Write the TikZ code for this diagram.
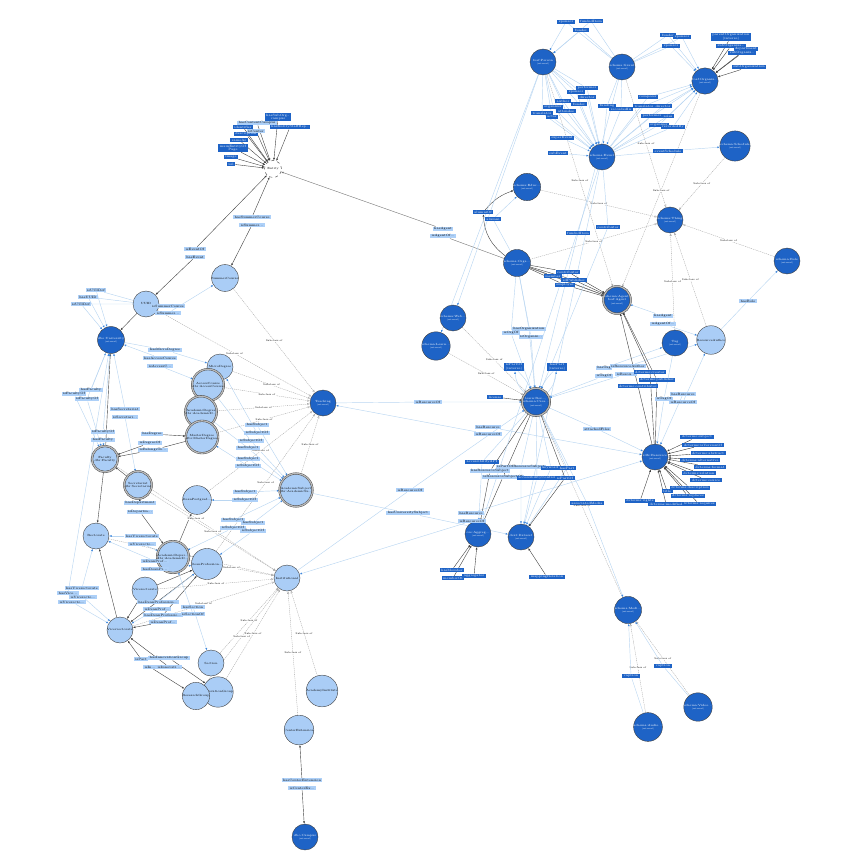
\documentclass[tikz,border=0pt]{standalone}
\usetikzlibrary{arrows.meta,positioning}
\definecolor{extblue}{HTML}{1E63C6}
\definecolor{clsblue}{HTML}{AACDF6}
\definecolor{labblue}{HTML}{ADD0F8}
\definecolor{linkblue}{HTML}{BAD6F1}
\definecolor{tipblue}{HTML}{3F88DD}
\newcommand{\exttag}{{\fontsize{2.1}{2.4}\selectfont(external)}}
\pgfdeclarelayer{bg}
\pgfsetlayers{bg,main}

\begin{document}
\begin{tikzpicture}
  [
    x=1pt, y=-1pt,
    base/.style={circle, draw=black!75, line width=.4pt, minimum size=26pt, inner sep=0pt, align=center, font=\fontsize{3}{3.4}\selectfont},
    cls/.style={base, fill=clsblue},
    ext/.style={base, fill=extblue, text=white},
    eqv/.style={base, fill=clsblue, double=gray!55, double distance=1.3pt},
    eqvext/.style={eqv, fill=extblue, text=white},
    thing/.style={base, dashed, fill=white, minimum size=17pt},
    lab/.style={fill=labblue, inner xsep=1.5pt, inner ysep=.9pt, font=\fontsize{3.2}{3.5}\selectfont, align=center},
    dlab/.style={lab, fill=extblue, text=white},
    prop/.style={draw=linkblue, line width=.45pt, -{Latex[length=2.4pt,width=2pt,color=tipblue]}},
    dprop/.style={draw=black!75, line width=.4pt, -{Latex[length=2.4pt,width=2pt]}},
    subc/.style={draw=gray!75, line width=.3pt, dash pattern=on 1.2pt off .8pt, -{Latex[open,length=2.6pt,width=2.2pt]}},
    subl/.style={fill=white, inner sep=.4pt, font=\fontsize{2.5}{2.8}\selectfont}
  ]
  \useasboundingbox (0,0) rectangle (840,858);

  % classes, university part
  \node[thing] (entity) at (273,169) {Entity};
  \node[cls] (uuid) at (146,304) {UUID};
  \node[cls] (summer) at (225,278) {SummerCourse};
  \node[ext] (univ) at (111,340) {dbo:University\\\exttag};
  \node[cls] (micro) at (220,367) {MicroDegree};
  \node[eqv] (access) at (208,385) {AccessCourse\\dbr:AccessCourse};
  \node[eqv] (acadeg) at (201,412) {AcademicDegree\\dbr:AcademicD...};
  \node[eqv] (master) at (202,437) {MasterDegree\\dbr:MasterDegree};
  \node[eqv] (faculty) at (105,459) {Faculty\\dbr:Faculty};
  \node[eqv] (secret) at (138,485) {Secretariat\\dbr:Secretariat};
  \node[cls] (deanpg) at (197,500) {DeanPostgrad...};
  \node[cls] (rector) at (96,536) {Rectorate};
  \node[eqv] (acadep) at (173,557) {AcademicDepar...\\dbr:AcademicD...};
  \node[cls] (deanpr) at (207,564) {DeanProfession...};
  \node[cls] (vicer) at (145,590) {Vicerectorate};
  \node[cls] (vicerb) at (120,630) {Vicerrectorate};
  \node[cls] (section) at (211,663) {Section};
  \node[cls] (innov) at (218,692) {InnovationGroup};
  \node[cls] (resgrp) at (196,696) {ResearchGroup};
  \node[ext] (teach) at (323,403) {Teaching\\\exttag};
  \node[eqv] (subject) at (296,490) {AcademicSubject\\dbr:AcademicSu...};
  \node[cls] (inst) at (287,578) {Institutional};
  \node[cls] (acinst) at (322,691) {AcademyInstitute};
  \node[cls] (center) at (299,730) {CenterExtension};
  \node[ext] (campus) at (305,837) {dbo:Campus\\\exttag};

  % classes, resource part
  \node[ext] (person) at (543,62) {foaf:Person\\\exttag};
  \node[ext] (event) at (622,67) {schema:Grant\\\exttag};
  \node[ext] (org) at (705,81) {foaf:Organiz...\\\exttag};
  \node[ext] (cwork) at (602,157) {schema:Event\\\exttag};
  \node[ext] (struct) at (735,146) {schema:Schedule\\\exttag};
  \node[ext] (eduorg) at (527,187) {schema:Educ...\\\exttag};
  \node[ext] (thingr) at (670,220) {schema:Thing\\\exttag};
  \node[ext] (orgs) at (517,263) {schema:Orga...\\\exttag};
  \node[eqvext] (agent) at (617,300) {schema:Agent,\\foaf:Agent\\\exttag};
  \node[ext] (role) at (787,261) {schema:Role\\\exttag};
  \node[ext] (web) at (453,318) {schema:Web...\\\exttag};
  \node[ext] (learn) at (436,346) {schema:Learn...\\\exttag};
  \node[ext] (tag) at (675,343) {Tag\\\exttag};
  \node[cls] (rauthor) at (711,340) {ResourceAuthor};
  \node[eqvext] (resource) at (536,402) {learn:Res...,\\schema:Crea...\\\exttag};
  \node[ext] (rdfsres) at (655,457) {rdfs:Resource\\\exttag};
  \node[ext] (aggr) at (478,534) {ore:Aggreg...\\\exttag};
  \node[ext] (dataset) at (521,537) {dcat:Dataset\\\exttag};
  \node[ext] (media) at (628,610) {schema:Medi...\\\exttag};
  \node[ext] (audio) at (648,727) {schema:Audio...\\\exttag};
  \node[ext] (video) at (698,707) {schema:Video...\\\exttag};

  % labels round Entity
  \foreach \n/\x/\y/\t in {1/278/117/{hasSubOrg\dots\\campus}, 2/243/127/identifier, 3/290/127/{hasEntityStaffRep\dots},
      4/246/134/description, 5/239/140/sameAs, 6/233/148/{mainEntityOf\\Page}, 7/231/157/image, 8/231/164/url}
  {
    \node[dlab] (ec\n) at (\x,\y) {\t};
    \begin{pgfonlayer}{bg}\draw[dprop] (ec\n) -- (entity);\end{pgfonlayer}
  }
  \node[lab] (ec9) at (257,123) {hasContentCampus};
  \node[lab] (ec10) at (256,131) {isCenter};

  % property labels, university part
  \node[lab] (ev1) at (195,249) {isEventOf};
  \node[lab] (ev2) at (195,257) {hasEvent};
  \node[lab] (sc1) at (252,217) {hasSummerCourse};
  \node[lab] (sc2) at (252,225) {isSummer...};
  \node[lab] (uu1) at (96,290) {isUUIDof};
  \node[lab] (uu2) at (88,297) {hasUUID};
  \node[lab] (uu3) at (81,304) {isUUIDof};
  \node[lab] (us1) at (168,306) {isSummerCourse};
  \node[lab] (us2) at (168,313) {isSummer...};
  \node[lab] (mi1) at (165,350) {hasMicroDegree};
  \node[lab] (mi2) at (160,358) {hasAccessCourse};
  \node[lab] (mi3) at (160,366) {isAccessC...};
  \node[lab] (fa1) at (91,390) {hasFaculty};
  \node[lab] (fa2) at (74,394) {isFacultyOf};
  \node[lab] (fa3) at (87,399) {isFacultyOf};
  \node[lab] (se1) at (125,409) {hasSecretariat};
  \node[lab] (se2) at (125,417) {isSecretari...};
  \node[lab] (fo1) at (103,432) {isFacultyOf};
  \node[lab] (fo2) at (103,440) {hasFaculty};
  \node[lab] (de1) at (152,434) {hasDegree};
  \node[lab] (de2) at (150,443) {isDegreeOf};
  \node[lab] (de3) at (153,450) {isBelongsTo...};
  \node[lab] (dp1) at (140,503) {hasDepartment};
  \node[lab] (dp2) at (140,512) {isDepartm...};
  \node[lab] (vr1) at (142,536) {hasVicerectorate};
  \node[lab] (vr2) at (142,544) {isVicerecto...};
  \node[lab] (dn1) at (155,561) {isDeanProf...};
  \node[lab] (dn2) at (155,569) {hasDeanPr...};
  \node[lab] (dq1) at (158,602) {hasDeanProfession...};
  \node[lab] (dq2) at (157,609) {isDeanProf...};
  \node[lab] (dq3) at (163,615) {hasDeanProfessio...};
  \node[lab] (dq4) at (163,622) {isDeanProf...};
  \node[lab] (sn1) at (193,607) {hasSection};
  \node[lab] (sn2) at (193,614) {isSectionOf};
  \node[lab] (vl1) at (82,588) {hasVicerectorate};
  \node[lab] (vl2) at (68,593) {hasVice...};
  \node[lab] (vl3) at (83,597) {isVicerecto...};
  \node[lab] (vl4) at (72,602) {isVicerecto...};
  \node[lab] (gi1) at (141,659) {isPart};
  \node[lab] (gi2) at (169,658) {hasInnovationGroup};
  \node[lab] (gi3) at (150,667) {isIn...};
  \node[lab] (gi4) at (169,667) {isInnovati...};
  \node[lab] (s1) at (257,425) {hasSubject};
  \node[lab] (s2) at (257,433) {isSubjectOf};
  \node[lab] (s3) at (251,441) {isSubjectOf};
  \node[lab] (s4) at (248,448) {hasSubject};
  \node[lab] (s5) at (248,459) {hasSubject};
  \node[lab] (s6) at (248,466) {isSubjectOf};
  \node[lab] (s7) at (245,492) {hasSubject};
  \node[lab] (s8) at (245,500) {isSubjectOf};
  \node[lab] (s9) at (233,520) {hasSubject};
  \node[lab] (s10) at (233,528) {isSubjectOf};
  \node[lab] (s11) at (253,523) {hasSubject};
  \node[lab] (s12) at (253,531) {isSubjectOf};
  \node[lab] (cx1) at (302,780) {hasCenterExtension};
  \node[lab] (cx2) at (302,788) {isCenterEx...};

  % property labels, resource part
  \node[lab] (ag1) at (443,229) {hasAgent};
  \node[lab] (ag2) at (443,236) {isAgentOf...};
  \node[lab] (rs1) at (428,402) {isResourceOf};
  \node[dlab] (lic) at (495,397) {license};
  \node[lab] (rs2) at (410,490) {isResourceOf};
  \node[lab] (hus) at (408,513) {hasUniversitySubject};
  \node[lab] (ir1) at (471,513) {hasResource};
  \node[lab] (ir2) at (472,521) {isResourceOf};
  \node[lab] (hr1) at (488,427) {hasResource};
  \node[lab] (hr2) at (488,434) {isResourceOf};
  \node[lab] (att) at (597,429) {attachedFiles};
  \node[dlab] (amd) at (587,503) {associatedMedia};
  \node[lab] (tg1) at (604,368) {hasTag};
  \node[lab] (tg2) at (604,376) {isTagOf};
  \node[lab] (ra1) at (628,366) {isResourceAuthor};
  \node[lab] (ra2) at (626,374) {isResou...};
  \node[lab] (rq1) at (683,394) {hasResource};
  \node[lab] (rq2) at (683,402) {isResourceOf};
  \node[lab] (tgo) at (664,399) {isTagOf};
  \node[lab] (hag1) at (663,316) {hasAgent};
  \node[lab] (hag2) at (663,324) {isAgentOf...};
  \node[lab] (hrole) at (748,301) {hasRole};
  \node[dlab] (dct1) at (650,372) {dcterms:creator};
  \node[dlab] (dct2) at (657,380) {dcterms:publisher};
  \node[dlab] (dct3) at (638,386) {dcterms:contributor};
  \node[dlab] (pp1) at (514,367) {isPartOf\\(inverse)};
  \node[dlab] (pp2) at (557,367) {hasPart\\(inverse)};
  \node[lab] (ow1) at (529,329) {hasOrganization};
  \node[lab] (ow2) at (511,333) {isOrgOf};
  \node[lab] (ow3) at (531,337) {isOrganiz...};
  \node[dlab] (fi) at (578,233) {fundedItem};
  \node[dlab] (wf) at (608,227) {contributor};
  \node[dlab] (el1) at (483,212) {alumniOf};
  \node[dlab] (el2) at (493,219) {alumni};
  \node[dlab] (esc) at (668,151) {eventSchedule};
  \node[dlab] (ce1) at (562,138) {superEvent};
  \node[dlab] (ce2) at (558,153) {subEvent};
  \node[dlab] (capt1) at (663,666) {caption};
  \node[dlab] (capt2) at (631,676) {caption};
  \node[dlab] (am1) at (452,570) {hasMember};
  \node[dlab] (am2) at (453,578) {memberOf};
  \node[dlab] (am3) at (474,576) {aggregates};
  \node[dlab] (dm1) at (547,577) {mappingRelation};

  % Person, Grant, Event and Organization
  \foreach \n/\x/\y/\t in {1/587/88/performer, 2/576/92/sponsor, 3/587/97/director, 4/563/101/author,
      5/579/104/funder, 6/553/107/organizer, 7/566/111/attendee, 8/542/113/translator, 9/552/117/actor}
  {
    \node[dlab] (pf\n) at (\x,\y) {\t};
    \begin{pgfonlayer}{bg}\draw[prop] (person) -- (pf\n) -- (cwork);\end{pgfonlayer}
  }
  \foreach \n/\x/\y/\t in {1/607/106/funding, 2/621/109/recordedIn}
  {
    \node[dlab] (fe\n) at (\x,\y) {\t};
    \begin{pgfonlayer}{bg}\draw[prop] (event) -- (fe\n) -- (cwork);\end{pgfonlayer}
  }
  \foreach \n/\x/\y/\t in {1/648/97/composer, 2/644/106/translator, 3/663/106/director, 4/652/116/performer,
      5/668/116/roles, 6/659/125/organizer, 7/673/127/recordedBy}
  {
    \node[dlab] (co\n) at (\x,\y) {\t};
    \begin{pgfonlayer}{bg}\draw[prop] (cwork) -- (co\n) -- (org);\end{pgfonlayer}
  }
  \foreach \n/\x/\y/\t in {1/566/22/sponsor, 2/591/21/fundedItem, 3/581/30/funder}
  {
    \node[dlab] (pe\n) at (\x,\y) {\t};
    \begin{pgfonlayer}{bg}\draw[prop] (event) -- (pe\n) -- (person);\end{pgfonlayer}
  }
  \foreach \n/\x/\y/\t in {1/668/35/funder, 2/682/37/sponsor, 3/671/46/sponsor}
  {
    \node[dlab] (og\n) at (\x,\y) {\t};
    \begin{pgfonlayer}{bg}\draw[prop] (event) -- (og\n) -- (org);\end{pgfonlayer}
  }
  \foreach \n/\x/\y/\t in {1/731/37/{parentOrganization\\(inverse)}, 2/731/46/{subOrganiza\dots}, 3/746/49/department,
      4/742/53/{subOrganiz\dots}, 5/749/67/subOrganization}
  {
    \node[dlab] (os\n) at (\x,\y) {\t};
    \begin{pgfonlayer}{bg}\draw[dprop] (os\n) -- (org);\end{pgfonlayer}
  }
  \foreach \n/\x/\y/\t in {1/553/276/member, 2/568/272/contributor, 3/574/280/sdPublisher, 4/565/285/employee}
  {
    \node[dlab] (oa\n) at (\x,\y) {\t};
    \begin{pgfonlayer}{bg}\draw[dprop] (orgs) -- (oa\n) -- (agent);\end{pgfonlayer}
  }

  % rdfs:Resource
  \foreach \n/\x/\y/\t in {1/697/437/dcterms:subject, 2/703/445/dcterms:isVersionOf, 3/708/453/dcterms:abstract,
      4/700/460/dcterms:alternative, 5/710/467/dcterms:format, 6/699/473/dcterms:relation, 7/706/480/dcterms:source,
      8/690/488/dcterms:description, 9/667/491/title, 10/688/496/dcterms:replaces, 11/699/504/dcterms:requires,
      12/640/501/dcterms:rights, 13/666/504/dcterms:modified}
  {
    \node[dlab] (rr\n) at (\x,\y) {\t};
    \begin{pgfonlayer}{bg}\draw[dprop] (rr\n) -- (rdfsres);\end{pgfonlayer}
  }

  % below the resource
  \node[dlab] (rl1) at (482,462) {accessibilityAPI};
  \node[lab] (rl2) at (521,467) {isPartOfResourceSubject};
  \node[dlab] (rl3) at (551,468) {keywords};
  \node[dlab] (rl4) at (567,468) {hasPart};
  \node[lab] (rl5) at (490,471) {hasResourceSubject};
  \node[lab] (rl6) at (503,477) {isResourceSubjectOf};
  \node[dlab] (rl7) at (537,478) {accessibilityControl};
  \node[dlab] (rl8) at (565,478) {isPartOf};

  \begin{pgfonlayer}{bg}
  % university part
  \draw[dprop] (ev1) -- (entity);
  \draw[dprop] (ev2) -- (uuid);
  \draw[dprop] (sc1) -- (entity);
  \draw[dprop] (sc2) -- (summer);
  \draw[dprop] (uuid) -- (univ);
  \draw[prop] (uuid) -- (uu1) -- (univ);
  \draw[prop] (uuid) -- (uu2) -- (univ);
  \draw[prop] (uuid) -- (uu3) -- (univ);
  \draw[prop] (us1) -- (uuid);
  \draw[prop] (us2) -- (summer);
  \draw[prop] (univ) -- (mi1) -- (micro);
  \draw[prop] (mi2) -- (univ);
  \draw[prop] (mi3) -- (access);
  \draw[prop] (fa1) -- (univ);
  \draw[prop] (fa2) -- (faculty);
  \draw[prop] (univ) -- (fa3) -- (faculty);
  \draw[dprop] (faculty) -- (univ);
  \draw[prop] (se1) -- (univ);
  \draw[prop] (se2) -- (secret);
  \draw[prop] (fo1) -- (univ);
  \draw[prop] (fo2) -- (faculty);
  \draw[dprop] (de1) -- (master);
  \draw[dprop] (de2) -- (faculty);
  \draw[dprop] (master) -- (de3) -- (faculty);
  \draw[dprop] (faculty) -- (rector);
  \draw[dprop] (secret) -- (faculty);
  \draw[dprop] (dp1) -- (secret);
  \draw[dprop] (dp2) -- (acadep);
  \draw[prop] (vr1) -- (rector);
  \draw[prop] (vr2) -- (acadep);
  \draw[prop] (dn1) -- (rector);
  \draw[prop] (dn2) -- (deanpr);
  \draw[dprop] (vicer) -- (deanpr);
  \draw[dprop] (acadep) -- (deanpg);
  \draw[dprop] (vicer) -- (vicerb);
  \draw[dprop] (deanpr) -- (vicerb);
  \draw[prop] (dq1) -- (deanpr);
  \draw[prop] (dq2) -- (vicerb);
  \draw[dprop] (dq3) -- (deanpr);
  \draw[dprop] (dq4) -- (vicerb);
  \draw[prop] (sn2) -- (acadep);
  \draw[prop] (sn1) -- (section);
  \draw[prop] (vl1) -- (rector);
  \draw[prop] (vl2) -- (univ);
  \draw[prop] (vl3) -- (vicerb);
  \draw[prop] (vl4) -- (vicerb);
  \draw[dprop] (vicerb) -- (rector);
  \draw[dprop] (gi1) -- (vicerb);
  \draw[dprop] (gi3) -- (resgrp);
  \draw[dprop] (gi2) -- (innov);
  \draw[dprop] (gi4) -- (vicerb);
  \draw[prop] (s1) -- (subject);
  \draw[prop] (s2) -- (micro);
  \draw[prop] (access) -- (s3) -- (subject);
  \draw[prop] (acadeg) -- (s4) -- (subject);
  \draw[prop] (s5) -- (subject);
  \draw[prop] (s6) -- (master);
  \draw[prop] (s7) -- (subject);
  \draw[prop] (s8) -- (deanpg);
  \draw[prop] (s9) -- (subject);
  \draw[prop] (s10) -- (acadep);
  \draw[prop] (s11) -- (subject);
  \draw[prop] (s12) -- (deanpr);
  \draw[dprop] (cx1) -- (center);
  \draw[dprop] (cx2) -- (campus);
  \draw[dprop] (ec9) -- (entity);
  \draw[dprop] (ec10) -- (entity);

  % subclasses
  \foreach \a/\b in {uuid/teach, summer/teach, micro/teach, access/teach, acadeg/teach, master/teach,
      deanpg/teach, subject/teach, deanpr/teach, faculty/inst, secret/inst, rector/inst, acadep/inst,
      vicer/inst, vicerb/inst, section/inst, resgrp/inst, innov/inst, acinst/inst, center/inst,
      person/agent, event/thingr, org/agent, struct/thingr, eduorg/thingr, orgs/thingr, role/thingr,
      tag/thingr, rauthor/thingr, web/resource, learn/resource, media/resource, audio/media, video/media}
    \draw[subc] (\a) -- node[subl] {Subclass of} (\b);

  % resource part
  \draw[dprop,draw=black!55] (ag1) -- (entity);
  \draw[dprop,draw=black!55] (ag2) -- (agent);
  \draw[prop] (teach) -- (rs1) -- (resource);
  \draw[dprop] (lic) -- (resource);
  \draw[prop] (inst) -- (rs2) -- (resource);
  \draw[prop] (subject) -- (hus) -- (dataset);
  \draw[prop] (ir2) -- (inst);
  \draw[prop] (ir1) -- (rdfsres);
  \draw[prop] (hr2) -- (teach);
  \draw[prop] (hr1) -- (rdfsres);
  \draw[prop] (resource) -- (att) -- (rdfsres);
  \draw[prop] (resource) -- (amd) -- (media);
  \draw[prop] (tg1) -- (tag);
  \draw[prop] (tg2) -- (resource);
  \draw[prop] (ra1) -- (rauthor);
  \draw[prop] (ra2) -- (resource);
  \draw[prop] (rq1) -- (rdfsres);
  \draw[prop] (rq2) -- (rauthor);
  \draw[prop] (tag) -- (tgo) -- (rdfsres);
  \draw[prop] (hag1) -- (agent);
  \draw[prop] (hag2) -- (rauthor);
  \draw[prop] (rauthor) -- (hrole) -- (role);
  \draw[dprop] (rdfsres) -- (dct1) -- (agent);
  \draw[dprop] (rdfsres) -- (dct2) -- (agent);
  \draw[dprop] (rdfsres) -- (dct3) -- (agent);
  \draw[prop] (resource) to[bend left=20] (pp1);
  \draw[prop] (pp1) to[bend left=10] (resource);
  \draw[prop] (resource) to[bend right=20] (pp2);
  \draw[prop] (pp2) to[bend right=10] (resource);
  \draw[prop] (orgs) -- (ow1) -- (resource);
  \draw[prop] (orgs) -- (ow2) -- (resource);
  \draw[prop] (orgs) -- (ow3) -- (resource);
  \draw[prop] (event) -- (fi) -- (resource);
  \draw[prop] (cwork) -- (wf) -- (resource);
  \draw[dprop] (orgs) to[bend left=25] (el1);
  \draw[dprop] (el1) to[bend left=15] (eduorg);
  \draw[prop] (orgs) -- (el2) -- (eduorg);
  \draw[prop] (cwork) -- (esc) -- (struct);
  \draw[prop] (ce1) -- (cwork);
  \draw[prop] (ce2) -- (cwork);
  \draw[prop] (video) -- (capt1) -- (media);
  \draw[prop] (audio) -- (capt2) -- (media);
  \draw[dprop] (am1) -- (aggr);
  \draw[dprop] (am2) -- (aggr);
  \draw[dprop] (am3) -- (aggr);
  \draw[dprop] (dm1) -- (dataset);
  \draw[prop] (resource) -- (rl1) -- (aggr);
  \draw[prop] (resource) -- (rl2) -- (dataset);
  \draw[prop] (resource) -- (rl3) -- (dataset);
  \draw[prop] (resource) -- (rl4) -- (dataset);
  \draw[dprop] (resource) -- (rl5) -- (aggr);
  \draw[dprop] (resource) -- (rl6) -- (aggr);
  \draw[prop] (resource) -- (rl7) -- (dataset);
  \draw[dprop] (resource) -- (rl8) -- (dataset);
  \draw[prop] (cwork) -- (aggr);
  \draw[prop] (cwork) -- (dataset);
  \draw[prop] (person) -- (web);
  \draw[prop] (person) -- (learn);
  \end{pgfonlayer}
\end{tikzpicture}
\end{document}
